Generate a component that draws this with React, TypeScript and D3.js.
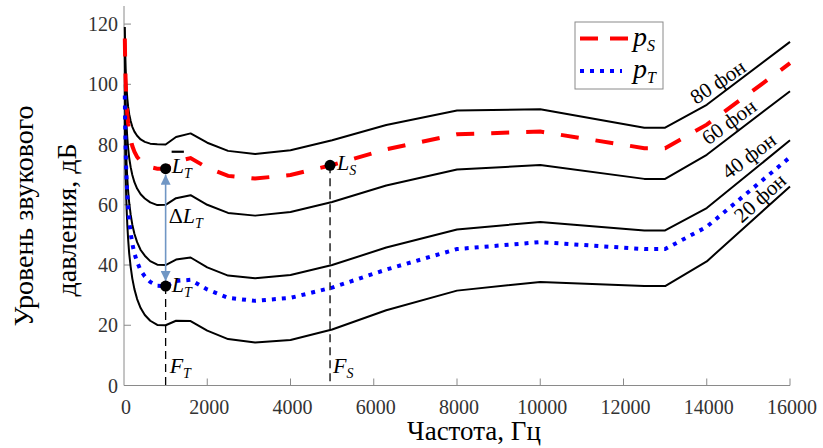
import React from "react";
import * as d3 from "d3";

const freqs = [20, 25, 31.5, 40, 50, 63, 80, 100, 125, 160, 200, 250, 315, 400, 500, 630, 800, 1000, 1250, 1600, 2000, 2500, 3150, 4000, 5000, 6300, 8000, 10000, 12500, 13000, 14000, 16000];
const phon20 = [89.6, 82.7, 76.0, 69.6, 64.0, 58.6, 53.2, 48.4, 43.8, 39.4, 35.5, 32.0, 28.7, 25.7, 23.4, 21.5, 20.1, 20.0, 21.5, 21.4, 18.2, 15.4, 14.3, 15.1, 18.6, 25.0, 31.5, 34.4, 33.0, 33.0, 41.2, 66.1];
const phon40 = [99.9, 93.9, 88.2, 82.6, 77.8, 73.1, 68.5, 64.4, 60.6, 56.7, 53.4, 50.4, 47.6, 45.0, 43.1, 41.3, 40.1, 40.0, 41.8, 42.5, 39.2, 36.5, 35.6, 36.7, 40.0, 45.8, 51.8, 54.3, 51.5, 51.5, 58.9, 81.4];
const phon60 = [109.5, 104.2, 99.1, 94.2, 90.0, 85.9, 82.1, 78.7, 75.6, 72.5, 69.9, 67.5, 65.4, 63.5, 62.1, 60.8, 59.9, 60.0, 62.2, 63.2, 60.0, 57.3, 56.4, 57.6, 60.9, 66.4, 71.7, 73.2, 68.6, 68.6, 76.6, 97.7];
const phon80 = [119.0, 114.2, 109.7, 105.3, 101.7, 98.4, 95.2, 92.5, 90.1, 87.8, 85.9, 84.3, 82.9, 81.7, 80.9, 80.3, 80.1, 80.0, 82.5, 83.7, 80.6, 77.9, 76.9, 78.1, 81.4, 86.5, 91.3, 91.7, 85.6, 85.6, 93.2, 114.1];
const pS = [115.2, 110.2, 105.3, 100.9, 97.0, 93.4, 89.9, 86.9, 84.3, 81.7, 79.5, 77.6, 75.9, 74.4, 73.3, 72.5, 72.0, 72.0, 74.3, 75.5, 72.3, 69.6, 68.7, 69.9, 73.2, 78.4, 83.4, 84.3, 78.8, 78.8, 86.6, 107.0];
const pT = [96.3, 90.0, 83.9, 78.1, 73.0, 68.0, 63.1, 58.8, 54.7, 50.6, 47.1, 43.9, 41.0, 38.2, 36.2, 34.4, 33.1, 33.0, 34.7, 35.1, 31.9, 29.1, 28.1, 29.1, 32.5, 38.5, 45.3, 47.6, 45.3, 45.3, 52.7, 75.8];

const xTicks = [0, 2000, 4000, 6000, 8000, 10000, 12000, 14000, 16000];
const yTicks = [0, 20, 40, 60, 80, 100, 120];
const contourNames = ["20 фон", "40 фон", "60 фон", "80 фон"];
const contours = [phon20, phon40, phon60, phon80];

const FT = 1000;
const LT = 33.0;
const LTbar = 72.0;
const FS = 4950;
const LS = 73.1;

const xTitle = "Частота, Гц";
const yTitle1 = "Уровень звукового";
const yTitle2 = "давления, дБ";

export default function App() {
  const W = 823, H = 448;
  const x = d3.scaleLinear().domain([0, 16000]).range([124, 790]);
  const y = d3.scaleLinear().domain([0, 126]).range([385.5, 6]);
  const line = (vals: number[]) =>
    d3.line<number>().x((_, i) => x(freqs[i])).y((v) => y(v))(vals) || "";

  const serif = "Liberation Serif, Times New Roman, serif";
  const axisColor = "#8a8a8a";
  const labelColor = "#333";
  const arrowColor = "#7096c4";

  // phon label placement in data coordinates (centre of each label)
  const phonLabelPos = [
    { f: 15280, v: 62.3, rot: -42 },
    { f: 15015, v: 76.2, rot: -37 },
    { f: 14535, v: 87.5, rot: -36 },
    { f: 14270, v: 100.8, rot: -34 },
  ];

  const xT = x(FT), xS = x(FS);
  const yLT = y(LT), yLTbar = y(LTbar), yLS = y(LS);

  return (
    <svg width={W} height={H} style={{ position: "absolute", left: 0, top: 0, background: "#fff", fontFamily: serif }}>
      <defs>
        <marker id="arrH" viewBox="0 0 10 10" refX="10" refY="5" markerWidth="10" markerHeight="10" markerUnits="userSpaceOnUse" orient="auto-start-reverse">
          <path d="M0,0 L10,5 L0,10 z" fill={arrowColor} />
        </marker>
      </defs>

      {/* axes */}
      <line x1={x(0)} x2={x(16000)} y1={y(0)} y2={y(0)} stroke={axisColor} strokeWidth={1} />
      <line x1={x(0)} x2={x(0)} y1={y(0)} y2={y(126)} stroke={axisColor} strokeWidth={1} />
      {xTicks.map((t) => (
        <g key={"xt" + t}>
          {t > 0 && <line x1={x(t)} x2={x(t)} y1={y(0)} y2={y(0) - 7} stroke={axisColor} strokeWidth={1} />}
          <text x={x(t) + 2} y={414} textAnchor="middle" fontSize={20} fill={labelColor} style={{ fontFamily: serif }}>{t}</text>
        </g>
      ))}
      {yTicks.map((t) => (
        <g key={"yt" + t}>
          {t > 0 && <line x1={x(0)} x2={x(0) + 7} y1={y(t)} y2={y(t)} stroke={axisColor} strokeWidth={1} />}
          <text x={118} y={y(t) + 7} textAnchor="end" fontSize={20} fill={labelColor} style={{ fontFamily: serif }}>{t}</text>
        </g>
      ))}
      <text x={474} y={440} textAnchor="middle" fontSize={27} fill="#000">{xTitle}</text>
      <text transform="translate(33,216) rotate(-90)" textAnchor="middle" fontSize={28} fill="#000">{yTitle1}</text>
      <text transform="translate(76,220) rotate(-90)" textAnchor="middle" fontSize={28} fill="#000">{yTitle2}</text>

      {/* contours */}
      {contours.map((c, i) => (
        <path key={"c" + i} d={line(c)} fill="none" stroke="#000" strokeWidth={2} strokeLinejoin="round" />
      ))}
      <path d={line(pS)} fill="none" stroke="#ff0000" strokeWidth={4} strokeDasharray="18 17" />
      <path d={line(pT)} fill="none" stroke="#0000ff" strokeWidth={4} strokeDasharray="4 6" />

      {/* phon labels */}
      {contourNames.map((name, i) => (
        <text key={"pl" + i} transform={`translate(${x(phonLabelPos[i].f)},${y(phonLabelPos[i].v)}) rotate(${phonLabelPos[i].rot})`} textAnchor="middle" dominantBaseline="central" fontSize={21} fill="#000">{name}</text>
      ))}

      {/* dashed verticals */}
      <line x1={xT} x2={xT} y1={yLT} y2={y(0)} stroke="#000" strokeWidth={1.3} strokeDasharray="8 5" />
      <line x1={xS} x2={xS} y1={yLS} y2={y(0)} stroke="#000" strokeWidth={1.3} strokeDasharray="8 5" />

      {/* double arrow */}
      <line x1={xT} x2={xT} y1={yLTbar + 6} y2={yLT - 5} stroke={arrowColor} strokeWidth={1.6} markerStart="url(#arrH)" markerEnd="url(#arrH)" />

      {/* points */}
      <circle cx={xT} cy={yLTbar} r={5.5} fill="#000" />
      <circle cx={xT} cy={yLT} r={5.5} fill="#000" />
      <circle cx={xS} cy={yLS} r={5.5} fill="#000" />

      {/* annotations */}
      <text x={xT + 6} y={yLTbar + 4} fontSize={22} fontStyle="italic" fill="#000">
        <tspan style={{ textDecoration: "overline" }}>L</tspan>
        <tspan fontSize={14} dy={5}>T</tspan>
      </text>
      <text x={xT + 6} y={yLT + 6} fontSize={22} fontStyle="italic" fill="#000">
        L<tspan fontSize={14} dy={5}>T</tspan>
      </text>
      <text x={xT + 3} y={223} fontSize={22} fill="#000">
        Δ<tspan fontStyle="italic">L</tspan><tspan fontSize={14} fontStyle="italic" dy={5}>T</tspan>
      </text>
      <text x={xS + 7} y={yLS + 5} fontSize={22} fontStyle="italic" fill="#000">
        L<tspan fontSize={14} dy={5}>S</tspan>
      </text>
      <text x={xT + 4} y={373} fontSize={22} fontStyle="italic" fill="#000">
        F<tspan fontSize={14} dy={5}>T</tspan>
      </text>
      <text x={xS + 3} y={373} fontSize={22} fontStyle="italic" fill="#000">
        F<tspan fontSize={14} dy={5}>S</tspan>
      </text>

      {/* legend */}
      <rect x={575} y={22} width={88} height={67} fill="#fff" stroke="#8a8a8a" strokeWidth={1} />
      <line x1={580} x2={628} y1={38.5} y2={38.5} stroke="#ff0000" strokeWidth={4} strokeDasharray="18 12" />
      <line x1={580} x2={622} y1={71} y2={71} stroke="#0000ff" strokeWidth={4} strokeDasharray="4 6" />
      <text x={633} y={46} fontSize={28} fontStyle="italic" fill="#000">
        p<tspan fontSize={16} dy={5}>S</tspan>
      </text>
      <text x={633} y={78} fontSize={28} fontStyle="italic" fill="#000">
        p<tspan fontSize={16} dy={5}>T</tspan>
      </text>
    </svg>
  );
}
